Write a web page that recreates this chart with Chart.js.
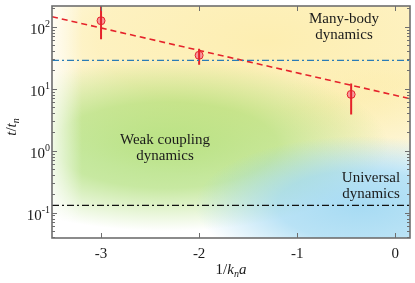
<!DOCTYPE html>
<html>
<head>
<meta charset="utf-8">
<script src="https://cdn.jsdelivr.net/npm/chart.js@4"></script>
<style>
html, body { margin: 0; padding: 0; background: #fff; }
</style>
</head>
<body>
<canvas id="chart" width="415" height="283"></canvas>
<script>
// axis setup
const xRange = [-3.5, 0.15];
const yRange = [0.039, 216];
const xTicks = [-3, -2, -1, 0];
const yTicks = [0.1, 1, 10, 100];
const yTickExp = ['-1', '0', '1', '2'];

// measured points with error bars
const measX = [-3, -2, -0.45];
const measT = [125, 34.6, 8.1];
const measLo = [62.7, 24.4, 3.84];
const measHi = [250, 44.2, 12.1];

// fitted line (dashed red)
const fitX = [-3.5, 0.15];
const fitT = [145, 6.9];

// horizontal time scales
const manyBodyT = 28.7;
const universalT = 0.1315;

const SERIF = '"Liberation Serif", "DejaVu Serif", serif';
const RED = '#e5232b';

// error bars as one line dataset, broken with null gaps
const errData = [];
measX.forEach((x, i) => {
    errData.push({ x: x, y: measLo[i] }, { x: x, y: measHi[i] }, { x: x, y: null });
});

function blob(ctx, cx, cy, rx, ry, rgb, alpha) {
    ctx.save();
    ctx.translate(cx, cy);
    ctx.scale(rx, ry);
    const g = ctx.createRadialGradient(0, 0, 0, 0, 0, 1);
    g.addColorStop(0, `rgba(${rgb},${alpha})`);
    g.addColorStop(0.5, `rgba(${rgb},${alpha * 0.8})`);
    g.addColorStop(1, `rgba(${rgb},0)`);
    ctx.fillStyle = g;
    ctx.fillRect(-1, -1, 2, 2);
    ctx.restore();
}

// draw text made of pieces (italic, subscript...) centred on cx
function drawRich(ctx, parts, cx, cy) {
    let w = 0;
    parts.forEach(p => { ctx.font = p.font; w += ctx.measureText(p.t).width; });
    let x = cx - w / 2;
    ctx.textAlign = 'left';
    ctx.textBaseline = 'alphabetic';
    parts.forEach(p => {
        ctx.font = p.font;
        ctx.fillText(p.t, x, cy + (p.dy || 0));
        x += ctx.measureText(p.t).width;
    });
}

const decor = {
    id: 'decor',
    beforeDatasetsDraw(chart) {
        const { ctx, chartArea: a } = chart;
        const w = a.right - a.left, h = a.bottom - a.top;
        ctx.save();
        ctx.beginPath();
        ctx.rect(a.left, a.top, w, h);
        ctx.clip();
        ctx.fillStyle = '#fff';
        ctx.fillRect(a.left, a.top, w, h);
        // coloured regions
        blob(ctx, a.left + 0.6 * w, a.top + 0.15 * h, 0.95 * w, 0.6 * h, '252,230,140', 0.68);
        blob(ctx, a.left + 0.92 * w, a.top + 0.45 * h, 0.3 * w, 0.25 * h, '252,234,160', 0.4);
        blob(ctx, a.left + 0.32 * w, a.top + 0.6 * h, 0.62 * w, 0.37 * h, '168,220,108', 0.8);
        blob(ctx, a.left + 0.86 * w, a.top + 0.86 * h, 0.46 * w, 0.3 * h, '145,210,240', 0.8);
        // soft white fade along the left edge
        const lg = ctx.createLinearGradient(a.left, 0, a.left + 30, 0);
        lg.addColorStop(0, 'rgba(255,255,255,0.75)');
        lg.addColorStop(1, 'rgba(255,255,255,0)');
        ctx.fillStyle = lg;
        ctx.fillRect(a.left, a.top, 30, h);

        // region labels
        ctx.fillStyle = '#1a1a1a';
        ctx.font = '15px ' + SERIF;
        ctx.textAlign = 'center';
        ctx.textBaseline = 'middle';
        ctx.fillText('Many-body', 344, 19);
        ctx.fillText('dynamics', 344, 35);
        ctx.fillText('Weak coupling', 165, 140);
        ctx.fillText('dynamics', 165, 156);
        ctx.fillText('Universal', 371, 178);
        ctx.fillText('dynamics', 371, 194);
        ctx.restore();
    },
    afterDraw(chart) {
        const { ctx, chartArea: a, scales } = chart;
        const xs = scales.x, ys = scales.y;
        ctx.save();
        ctx.strokeStyle = '#6e6e6e';
        ctx.lineWidth = 1;
        // inward ticks on all four sides
        ctx.beginPath();
        xTicks.forEach(v => {
            const p = Math.round(xs.getPixelForValue(v)) + 0.5;
            ctx.moveTo(p, a.bottom); ctx.lineTo(p, a.bottom - 5);
            ctx.moveTo(p, a.top); ctx.lineTo(p, a.top + 5);
        });
        for (let e = -2; e <= 2; e++) {
            for (let m = 1; m <= 9; m++) {
                const v = m * Math.pow(10, e);
                if (v < yRange[0] || v > yRange[1]) continue;
                const p = Math.round(ys.getPixelForValue(v)) + 0.5;
                const len = m === 1 ? 5 : 3;
                ctx.moveTo(a.left, p); ctx.lineTo(a.left + len, p);
                ctx.moveTo(a.right, p); ctx.lineTo(a.right - len, p);
            }
        }
        ctx.stroke();
        // frame
        ctx.lineWidth = 1.6;
        ctx.strokeRect(a.left, a.top, a.right - a.left, a.bottom - a.top);

        // y tick labels 10^k
        ctx.fillStyle = '#1a1a1a';
        ctx.textAlign = 'right';
        ctx.textBaseline = 'alphabetic';
        yTicks.forEach((v, i) => {
            const p = ys.getPixelForValue(v);
            ctx.font = '10px ' + SERIF;
            const ew = ctx.measureText(yTickExp[i]).width;
            ctx.fillText(yTickExp[i], 50, p);
            ctx.font = '15px ' + SERIF;
            ctx.fillText('10', 50 - ew, p + 7);
        });

        // axis titles
        const it = 'italic 15px ' + SERIF, rm = '15px ' + SERIF, sub = 'italic 10px ' + SERIF;
        drawRich(ctx, [
            { t: '1/', font: rm },
            { t: 'k', font: it },
            { t: 'n', font: sub, dy: 3 },
            { t: 'a', font: it }
        ], 231, 274);
        ctx.save();
        ctx.translate(16, 127);
        ctx.rotate(-Math.PI / 2);
        drawRich(ctx, [
            { t: 't', font: it },
            { t: '/', font: rm },
            { t: 't', font: it },
            { t: 'n', font: sub, dy: 3 }
        ], 0, 0);
        ctx.restore();
        ctx.restore();
    }
};

new Chart(document.getElementById('chart'), {
    type: 'line',
    data: {
        datasets: [
            {
                label: 'many-body',
                data: [{ x: xRange[0], y: manyBodyT }, { x: xRange[1], y: manyBodyT }],
                borderColor: '#2b7cb6',
                borderWidth: 1.3,
                borderDash: [7, 3, 2, 3],
                pointRadius: 0
            },
            {
                label: 'universal',
                data: [{ x: xRange[0], y: universalT }, { x: xRange[1], y: universalT }],
                borderColor: '#111',
                borderWidth: 1.3,
                borderDash: [7, 3, 2, 3],
                pointRadius: 0
            },
            {
                label: 'fit',
                data: fitX.map((x, i) => ({ x: x, y: fitT[i] })),
                borderColor: RED,
                borderWidth: 1.6,
                borderDash: [6, 4],
                pointRadius: 0
            },
            {
                label: 'error',
                data: errData,
                borderColor: RED,
                borderWidth: 2,
                spanGaps: false,
                pointRadius: 0
            },
            {
                label: 'measured',
                data: measX.map((x, i) => ({ x: x, y: measT[i] })),
                showLine: false,
                pointRadius: 4,
                pointBackgroundColor: '#f7999c',
                pointBorderColor: RED,
                pointBorderWidth: 1
            }
        ]
    },
    options: {
        responsive: false,
        devicePixelRatio: 1,
        animation: false,
        layout: { padding: { top: 6, right: 5, left: 0, bottom: 0 } },
        plugins: { legend: { display: false }, tooltip: { enabled: false } },
        scales: {
            x: {
                type: 'linear',
                min: xRange[0],
                max: xRange[1],
                afterBuildTicks: s => { s.ticks = xTicks.map(v => ({ value: v })); },
                afterFit: s => { s.height = 45; },
                grid: { display: false, drawTicks: false },
                border: { display: false },
                ticks: {
                    padding: 7,
                    color: '#1a1a1a',
                    font: { family: SERIF, size: 15 },
                    maxRotation: 0,
                    callback: v => String(v)
                }
            },
            y: {
                type: 'logarithmic',
                min: yRange[0],
                max: yRange[1],
                afterFit: s => { s.width = 52; },
                grid: { display: false },
                border: { display: false },
                ticks: { display: false }
            }
        }
    },
    plugins: [decor]
});
</script>
</body>
</html>
